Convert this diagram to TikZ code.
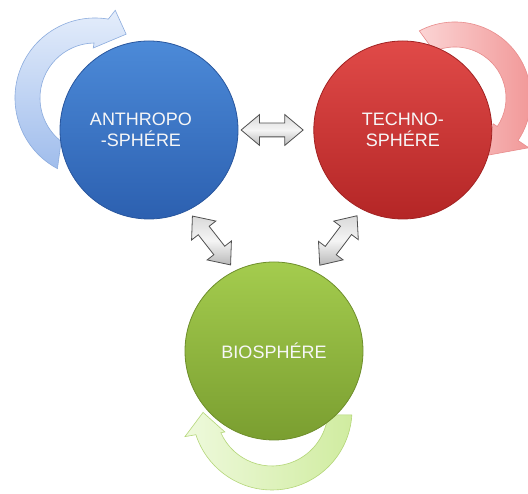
\documentclass[tikz,border=0pt]{standalone}
\usepackage{fontspec}
\setmainfont{Liberation Sans}
\usetikzlibrary{shapes.arrows,positioning}

\definecolor{anthrotop}{RGB}{76,138,216}
\definecolor{anthrobot}{RGB}{44,96,176}
\definecolor{technotop}{RGB}{224,74,72}
\definecolor{technobot}{RGB}{180,38,38}
\definecolor{biotop}{RGB}{164,204,78}
\definecolor{biobot}{RGB}{122,158,48}
\definecolor{arrowedge}{RGB}{80,80,80}
\definecolor{blueturnA}{RGB}{228,237,251}
\definecolor{blueturnB}{RGB}{160,189,236}
\definecolor{blueturnE}{RGB}{140,172,222}
\definecolor{redturnA}{RGB}{251,212,212}
\definecolor{redturnB}{RGB}{241,150,150}
\definecolor{redturnE}{RGB}{232,140,140}
\definecolor{greenturnA}{RGB}{238,249,220}
\definecolor{greenturnB}{RGB}{208,236,160}
\definecolor{greenturnE}{RGB}{180,214,120}

\begin{document}
\begin{tikzpicture}[x=1pt,y=1pt,
  sphere/.style={circle,minimum size=178pt,inner sep=0pt,align=center,text=white!94!gray,
    font=\fontsize{18}{21}\selectfont,line width=0.8pt},
  fatarrow/.style={double arrow,double arrow tip angle=80,double arrow head extend=8.5pt,
    minimum height=62pt,minimum width=30pt,inner xsep=0pt,inner ysep=6.5pt,
    draw=arrowedge,line width=0.8pt,top color=gray!30,bottom color=gray!55,middle color=gray!8},
  turnarrow/.style={line width=0.6pt}]

  \fill[white] (0,0) rectangle (528,494);
  \useasboundingbox (0,0) rectangle (528,494);

  % centres of the spheres and of their turning arrows
  \path (149,364) coordinate (anthroc) (402,364) coordinate (technoc) (274,143) coordinate (bioc);
  \coordinate (anthroturn) at ([shift={(-54,32)}]anthroc);
  \coordinate (technoturn) at ([shift={(53,32)}]technoc);
  \coordinate (bioturn) at ([shift={(-2,-59)}]bioc);

  % self turning arrows
  \path[turnarrow,draw=blueturnE,top color=blueturnA,bottom color=blueturnB]
    ([shift={(anthroturn)}]242:80pt) arc[start angle=242,end angle=80.4,radius=80pt]
    -- ([shift={(anthroturn)}]77:90pt) -- ([shift={(anthroturn)}]64:71pt)
    -- ([shift={(anthroturn)}]92:50pt) -- ([shift={(anthroturn)}]91:55pt)
    arc[start angle=91,end angle=232,radius=55pt] -- cycle;
  \path[turnarrow,draw=redturnE,left color=redturnA,right color=redturnB]
    ([shift={(technoturn)}]118:76pt) arc[start angle=118,end angle=-34,radius=76pt]
    -- ([shift={(technoturn)}]-34:89pt) -- ([shift={(technoturn)}]-60:66pt)
    -- ([shift={(technoturn)}]-34:46pt) -- ([shift={(technoturn)}]-34:51pt)
    arc[start angle=-34,end angle=114,radius=51pt] -- cycle;
  \path[turnarrow,draw=greenturnE,left color=greenturnA,right color=greenturnB]
    ([shift={(bioturn)}]-3.5:80pt) arc[start angle=-3.5,end angle=-162,radius=80pt]
    -- ([shift={(bioturn)}]-163:91pt) -- ([shift={(bioturn)}]-178:69pt)
    -- ([shift={(bioturn)}]-155:52pt) -- ([shift={(bioturn)}]-156:56pt)
    arc[start angle=-156,end angle=-5,radius=56pt] -- cycle;

  \node[sphere,draw=anthrobot!90!black,top color=anthrotop,bottom color=anthrobot] (anthro) at (anthroc) {ANTHROPO\hspace*{16pt}\\-SPHÉRE\hspace*{16pt}};
  \node[sphere,draw=technobot!90!black,top color=technotop,bottom color=technobot] (techno) [right=75pt of anthro] {TECHNO-\\SPHÉRE};
  \node[sphere,draw=biobot!90!black,top color=biotop,bottom color=biobot] (bio) at (bioc) {BIOSPHÉRE};

  % exchanges between the spheres
  \path (anthro) -- (techno) node[fatarrow,pos=0.45] (at) {};
  \path (anthro) -- (bio) node[fatarrow,midway,rotate=-52] (ab) {};
  \path (techno) -- (bio) node[fatarrow,midway,rotate=53] (tb) {};

\end{tikzpicture}
\end{document}
